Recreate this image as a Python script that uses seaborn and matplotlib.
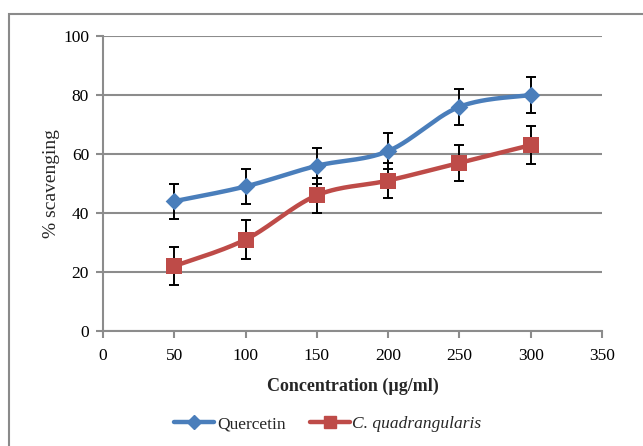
import numpy as np
import matplotlib
matplotlib.use("Agg")
import matplotlib.pyplot as plt
import seaborn as sns
import pandas as pd
from matplotlib.patches import Rectangle
from matplotlib.lines import Line2D

concentration = [50, 100, 150, 200, 250, 300]
quercetin = [44, 49, 56, 61, 76, 80]
quercetin_err = [6, 6, 6, 6, 6, 6]
cq = [22, 31, 46, 51, 57, 63]
cq_err = [6.5, 6.5, 6, 6, 6, 6.5]
series_names = ["Quercetin", "C. quadrangularis"]
x_ticks = [0, 50, 100, 150, 200, 250, 300, 350]
y_ticks = [0, 20, 40, 60, 80, 100]

sns.set_theme(style="white")
plt.rcParams['font.family'] = ['Liberation Serif', 'DejaVu Serif']

BLUE = "#4a7ebb"
RED = "#be4b48"
GRID = "#8c8c8c"

def smooth(x, y, n=30):
    x = np.asarray(x, float); y = np.asarray(y, float)
    P = np.column_stack([x, y])
    out = []
    for i in range(len(P) - 1):
        p0 = P[i - 1] if i > 0 else P[i]
        p1 = P[i]; p2 = P[i + 1]
        p3 = P[i + 2] if i + 2 < len(P) else P[i + 1]
        c1 = p1 + (p2 - p0) / 6.0
        c2 = p2 - (p3 - p1) / 6.0
        t = np.linspace(0, 1, n)[:, None]
        seg = ((1 - t) ** 3) * p1 + 3 * ((1 - t) ** 2) * t * c1 + 3 * (1 - t) * t ** 2 * c2 + t ** 3 * p2
        out.append(seg if i == 0 else seg[1:])
    s = np.vstack(out)
    return s[:, 0], s[:, 1]

fig = plt.figure(figsize=(6.43, 4.46), dpi=100)
ax = fig.add_axes([103/643, 1 - 331/446, (602-103)/643, (331-36)/446])

fig.patches.append(Rectangle((9/643, -0.05), 1.2, 1 - 14/446 + 0.05, transform=fig.transFigure,
                             fill=False, edgecolor="#8a8a8a", linewidth=1.5))

for yv, ye, col, mk, ms in [(quercetin, quercetin_err, BLUE, "D", 9), (cq, cq_err, RED, "s", 12)]:
    sx, sy = smooth(concentration, yv)
    ax.plot(sx, sy, color=col, linewidth=3.2, zorder=3, solid_capstyle="round")
    ax.errorbar(concentration, yv, yerr=ye, fmt="none", ecolor="black", elinewidth=1.4,
                capsize=3.5, capthick=1.4, zorder=4)
    df = pd.DataFrame({"x": concentration, "y": yv})
    sns.scatterplot(data=df, x="x", y="y", marker=mk, s=ms**2, color=col, edgecolor=col,
                    linewidth=0, ax=ax, zorder=5, legend=False)

ax.set_xlim(0, 350)
ax.set_ylim(0, 100)
ax.set_xticks(x_ticks)
ax.set_yticks(y_ticks)
ax.yaxis.grid(True, color=GRID, linewidth=1.5)
ax.xaxis.grid(False)
ax.set_axisbelow(True)
for s in ["top", "right"]:
    ax.spines[s].set_visible(False)
for s in ["left", "bottom"]:
    ax.spines[s].set_color(GRID)
    ax.spines[s].set_linewidth(1.5)
ax.tick_params(axis="both", which="both", direction="out", length=5, width=1.5, color=GRID,
               labelsize=12.5, labelcolor="black", bottom=True, left=True)
ax.tick_params(axis="x", pad=7)
ax.tick_params(axis="y", pad=5)

ax.set_xlabel("Concentration (µg/ml)", fontsize=13, fontweight="bold", labelpad=10)
ax.set_ylabel("% scavenging", fontsize=14, labelpad=2)

handles = [Line2D([], [], color=BLUE, marker="D", markersize=7, linewidth=3.2),
           Line2D([], [], color=RED, marker="s", markersize=9, linewidth=3.2)]
leg = fig.legend(handles, series_names, loc="center", bbox_to_anchor=(0.51, 1 - 424/446),
                 ncol=2, frameon=False, fontsize=12.5, handlelength=2.3, handletextpad=0.15,
                 columnspacing=1.4)
leg.get_texts()[1].set_fontstyle("italic")

fig.savefig("out.png", dpi=100)
